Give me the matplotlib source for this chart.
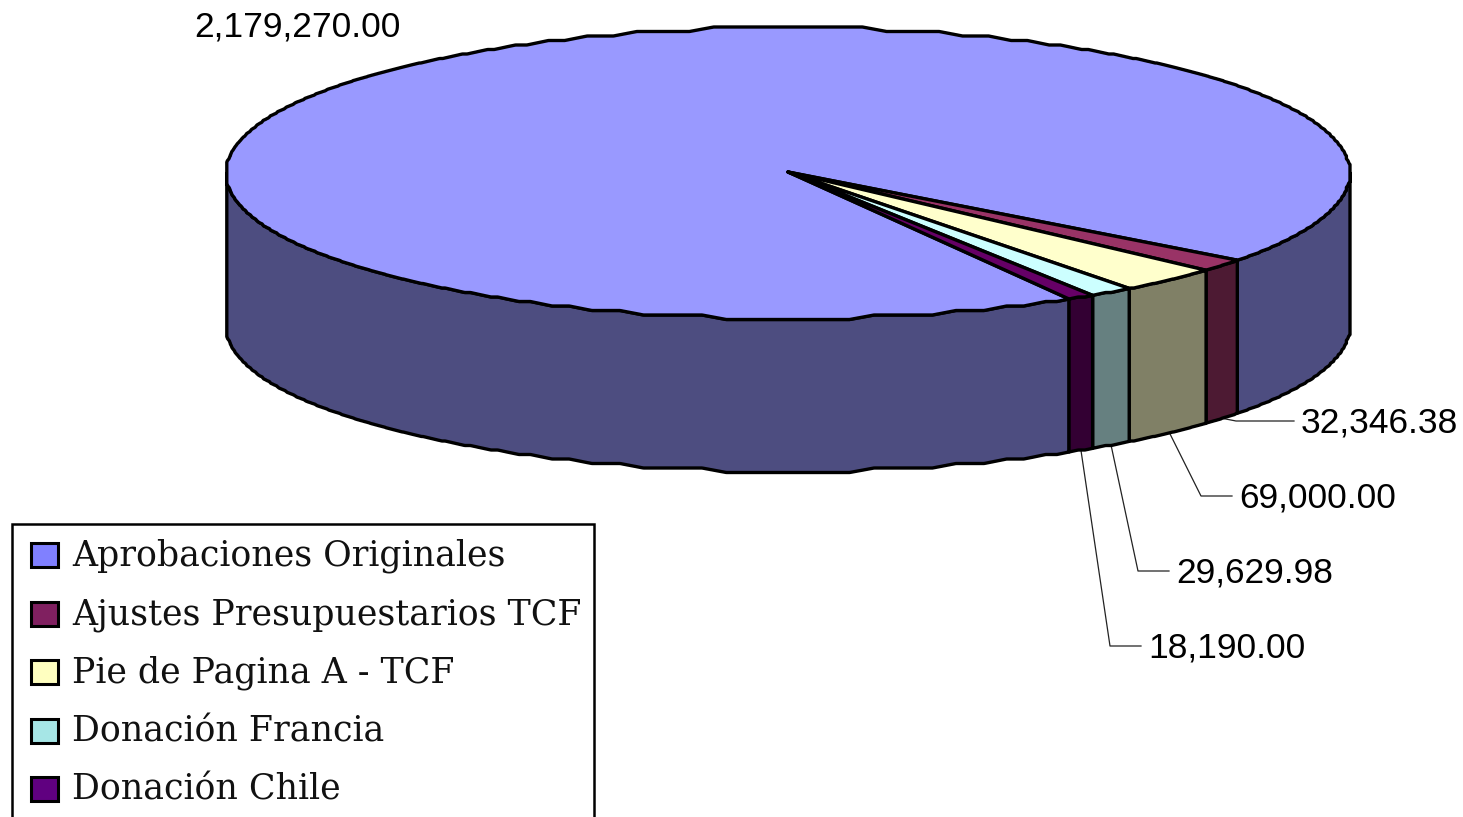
#!/usr/bin/env python3
"""3D-look pie (Excel style) drawn with plain polygons in pixel coordinates."""
import numpy as np
import matplotlib
matplotlib.use('Agg')
import matplotlib.pyplot as plt
from matplotlib.patches import Polygon, Rectangle

categories = ['Aprobaciones Originales', 'Ajustes Presupuestarios TCF',
              'Pie de Pagina A - TCF', 'Donación Francia', 'Donación Chile']
values = [2179270.00, 32346.38, 69000.00, 29629.98, 18190.00]
value_labels = ['2,179,270.00', '32,346.38', '69,000.00', '29,629.98', '18,190.00']
top_colors = ['#9999ff', '#993366', '#ffffcc', '#ccffff', '#660066']
side_colors = ['#4d4d80', '#4d1a33', '#808066', '#668080', '#330033']
legend_colors = ['#8080ff', '#802060', '#ffffc0', '#a6e6e6', '#600080']

W, H = 1463, 817
CX, CY, RX, RY = 788, 173, 562, 145.5
DEPTH = 153
START = -60.0   # first slice starts here, slices run clockwise
GRID_X, GRID_Y = 3.6, 4.5   # the source was a small bitmap scaled up, edges are stepped


# outline table: ellipse snapped to a coarse grid, then softened a little
tab_a = np.arange(0, 360.01, 0.1)
tab_x = CX + RX * np.cos(np.radians(tab_a))
tab_y = CY - RY * np.sin(np.radians(tab_a))
tab_x = np.round(tab_x / GRID_X) * GRID_X
tab_y = np.round(tab_y / GRID_Y) * GRID_Y
kern = np.ones(25) / 25
tab_x = np.convolve(np.r_[tab_x[-12:], tab_x, tab_x[:12]], kern, mode='valid')
tab_y = np.convolve(np.r_[tab_y[-12:], tab_y, tab_y[:12]], kern, mode='valid')


def pt(a, dy=0):
    a = np.mod(a, 360)
    return np.interp(a, tab_a, tab_x), np.interp(a, tab_a, tab_y) + dy


def arc(a0, a1, dy=0):
    n = max(2, int(abs(a1 - a0) * 10))
    t = np.linspace(a0, a1, n)
    return np.column_stack(pt(t, dy))


fig = plt.figure(figsize=(W / 100, H / 100), dpi=100)
ax = fig.add_axes([0, 0, 1, 1])
ax.set_xlim(0, W); ax.set_ylim(H, 0); ax.axis('off')

# slice angles from the values
fr = np.array(values) / sum(values) * 360
ends = START - np.cumsum(fr)
starts = ends + fr

# --- side walls: only the front half (180..360) shows ---
for i in range(len(values)):
    a1, a0 = starts[i], ends[i]
    # wrap the big slice so that it is split into left part and right part
    for lo, hi in [(a0, a1), (a0 + 360, a1 + 360), (a0 - 360, a1 - 360)]:
        lo2, hi2 = max(lo, -180), min(hi, 0)
        if hi2 <= lo2:
            continue
        top = arc(lo2, hi2)
        bot = arc(hi2, lo2, DEPTH)
        ax.add_patch(Polygon(np.vstack([top, bot]), closed=True, fc=side_colors[i],
                             ec='black', lw=2.4, joinstyle='round', zorder=2))

# --- top face ---
for i in range(len(values)):
    a = arc(ends[i], starts[i])
    ax.add_patch(Polygon(np.vstack([[CX, 172], a]), closed=True, fc=top_colors[i],
                         ec='black', lw=2.4, joinstyle='round', zorder=3))

# --- value labels + leader lines ---
lw = dict(color='#222222', lw=0.9, zorder=1)
fs = 25.5
font = 'Liberation Sans'
ax.text(194, 27, value_labels[0], fontsize=fs, family=font, va='center', ha='left')
label_pos = [(1301, 423), (1239, 498), (1176, 573), (1148, 648)]
for i, (x, y) in enumerate(label_pos, start=1):
    ax.text(x, y, value_labels[i], fontsize=fs, family=font, va='center', ha='left')
    mid = (starts[i] + ends[i]) / 2
    sx, sy = pt(mid, DEPTH)
    ly = y - 2
    ax.plot([sx, x - 38 if i > 1 else x - 65, x - 7], [sy, ly, ly], **lw)

# --- legend box, runs off the bottom of the picture ---
ax.add_patch(Rectangle((12, 524), 582, 320, fc='white', ec='black', lw=1.8, zorder=5))
for i, name in enumerate(categories):
    y = 555 + i * 58.5
    ax.add_patch(Rectangle((31, y - 12), 27, 24, fc=legend_colors[i], ec='black',
                           lw=2.2, zorder=6))
    ax.text(72, y + 1, name, fontsize=25, family='DejaVu Serif', va='center', ha='left',
            zorder=6, color='#111111')

fig.savefig('out.png', dpi=100)
